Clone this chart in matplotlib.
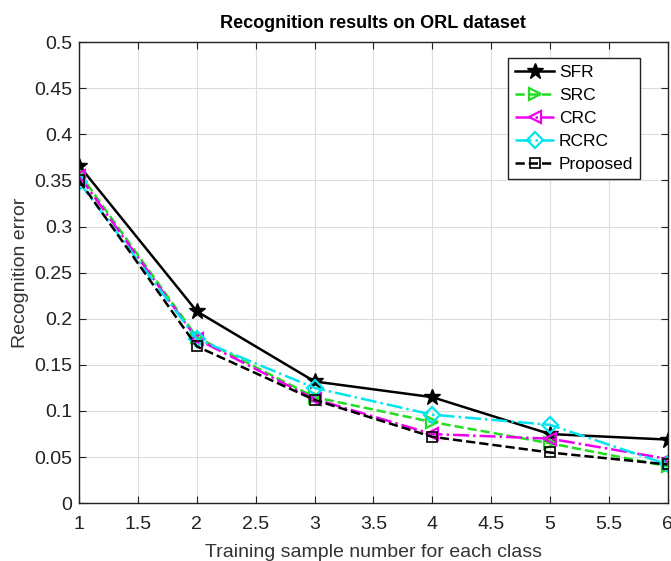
import matplotlib.pyplot as plt

# training samples per class
train_num = [1, 2, 3, 4, 5, 6]

# recognition error
sfr = [0.366, 0.208, 0.132, 0.115, 0.075, 0.069]
src = [0.358, 0.180, 0.115, 0.088, 0.065, 0.040]
crc = [0.355, 0.178, 0.113, 0.075, 0.070, 0.048]
rcrc = [0.348, 0.178, 0.125, 0.096, 0.085, 0.042]
proposed = [0.350, 0.170, 0.112, 0.072, 0.055, 0.042]

xticks = [1, 1.5, 2, 2.5, 3, 3.5, 4, 4.5, 5, 5.5, 6]
yticks = [0, 0.05, 0.1, 0.15, 0.2, 0.25, 0.3, 0.35, 0.4, 0.45, 0.5]

plt.rcParams['font.family'] = ['Liberation Sans', 'DejaVu Sans']

fig = plt.figure(figsize=(6.71, 5.61), dpi=100)
ax = fig.add_axes([0.118, 0.103, 0.877, 0.822])

ax.plot(train_num, sfr, '-', color='black', marker='*', markersize=12, lw=1.8, label='SFR')
ax.plot(train_num, src, '--', color='#22dd22', marker='>', markersize=9, mfc='none', mew=1.6, lw=1.8, label='SRC')
ax.plot(train_num, crc, '-.', color='#ee00ee', marker='<', markersize=9, mfc='none', mew=1.6, lw=1.8, label='CRC')
ax.plot(train_num, rcrc, '-.', color='#00e5ee', marker='D', markersize=8, mfc='none', mew=1.6, lw=1.8, label='RCRC')
ax.plot(train_num, proposed, '--', color='black', marker='s', markersize=7, mfc='none', mew=1.2, lw=1.8, label='Proposed')

ax.set_xlim(1, 6)
ax.set_ylim(0, 0.5)
ax.set_xticks(xticks)
ax.set_yticks(yticks)
ax.set_xticklabels([f'{t:g}' for t in xticks])
ax.set_yticklabels([f'{t:g}' for t in yticks])
ax.tick_params(direction='in', top=True, right=True, labelsize=14, length=5, colors='#222222')
ax.tick_params(axis='x', pad=9)
ax.tick_params(axis='y', pad=5)
ax.grid(True, color='#dddddd', lw=0.8)
for s in ax.spines.values():
    s.set_color('#222222')
    s.set_linewidth(1.0)

ax.set_title('Recognition results on ORL dataset', fontsize=13, fontweight='bold', pad=10)
ax.set_xlabel('Training sample number for each class', fontsize=14, color='#333333', labelpad=8)
ax.set_ylabel('Recognition error', fontsize=14, color='#333333', labelpad=4)

leg = ax.legend(loc='upper right', bbox_to_anchor=(0.968, 0.985), fontsize=12.5, fancybox=False,
                framealpha=1, edgecolor='#222222', handlelength=2.2, handletextpad=0.3,
                borderpad=0.4, labelspacing=0.45)
leg.get_frame().set_linewidth(1.0)

fig.savefig('out.png', dpi=100)
